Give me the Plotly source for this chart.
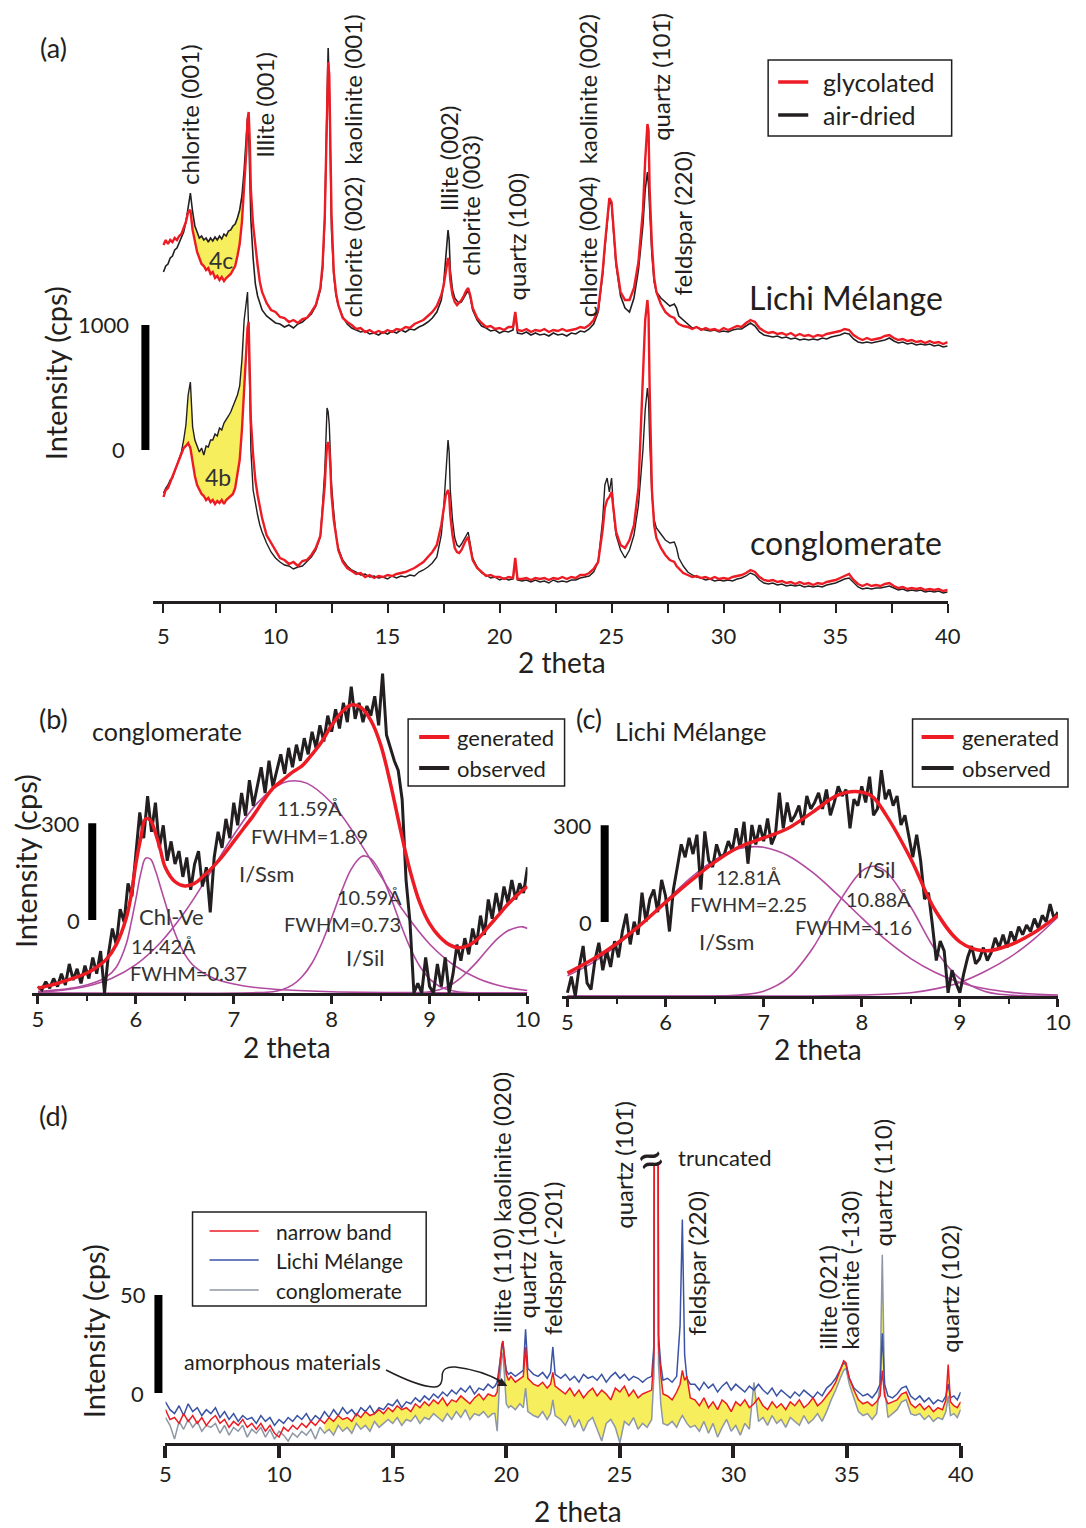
import plotly.graph_objects as go

W, H = 1086, 1528
FONT = "Lato"
INK = "#231f20"
RED = "#ed1c24"
BLUE = "#3a53a4"
GRAY = "#8d97a5"
PURPLE = "#b24a9f"
YELLOW = "#f6ee5c"

# the captured page places paper x in [0, 1] at pixels 8 .. 1072
X_OFF, X_SPAN = 8.0, 1064.0


def fx(p):
    return (p - X_OFF) / X_SPAN


def fy(p):
    return 1 - p / H


def grid(a, b, step):
    n = int(round((b - a) / step)) + 1
    return [round(a + i * step, 3) for i in range(n)]


# ---------------- (a) XRD patterns, intensity in cps ----------------
THETA_A = (grid(5.0, 8.4, 0.1)
           + [8.5, 8.6, 8.7, 8.75, 8.8, 8.85, 8.9, 9.0, 9.1, 9.2, 9.3, 9.4]
           + grid(9.6, 12.0, 0.2)
           + [12.1, 12.2, 12.25, 12.3, 12.35, 12.4, 12.45, 12.5, 12.6, 12.7, 12.8, 13.0]
           + grid(13.2, 17.2, 0.2)
           + [17.4, 17.5, 17.6, 17.7, 17.75, 17.8, 17.9, 18.0, 18.1, 18.2, 18.3, 18.4, 18.5, 18.6, 18.7, 18.8, 19.0]
           + grid(19.2, 20.4, 0.2)
           + [20.6, 20.7, 20.8]
           + grid(21.0, 24.2, 0.2)
           + [24.4, 24.6, 24.7, 24.8, 24.9, 25.0, 25.1, 25.2, 25.4, 25.6, 25.8, 26.0, 26.2, 26.4, 26.5, 26.6,
              26.65, 26.7, 26.8, 26.9, 27.0, 27.2, 27.4, 27.6, 27.8, 27.9, 28.0, 28.2]
           + grid(28.4, 40.0, 0.2))

LICHI_AIR = [
    2632, 2680, 2696, 2744, 2760, 2808, 2824, 2872, 2904, 2952, 3032, 3168, 3264, 3112, 3000, 2952, 2904, 2920,
    2888, 2904, 2872, 2904, 2880, 2912, 2888, 2920, 2896, 2936, 2920, 2960, 2968, 3000, 3016, 3064, 3128,
    3240, 3448, 3728, 3864, 3784, 3408, 3048, 2744, 2536, 2440, 2376, 2328,
    2280, 2248, 2224, 2216, 2192, 2208, 2184, 2216, 2232, 2264, 2296, 2360, 2488,
    2648, 3048, 3528, 4168, 4424, 4088, 3448, 2968, 2608, 2448, 2368, 2272,
    2216, 2184, 2168, 2152, 2160, 2136, 2144, 2128, 2152, 2136, 2160, 2144, 2168, 2152, 2176, 2168, 2192, 2208,
    2232, 2264, 2312,
    2408, 2528, 2768, 2968, 2888, 2648, 2488, 2424, 2400, 2384, 2392, 2424, 2464, 2488, 2424, 2328, 2248,
    2200, 2184, 2160, 2168, 2144, 2160, 2152,
    2168, 2312, 2144,
    2136, 2152, 2128, 2144, 2128, 2136, 2120, 2144, 2128, 2136, 2120, 2144, 2136, 2160, 2152, 2176, 2216,
    2312, 2608, 2824, 3008, 3208, 3168, 2928, 2688, 2440, 2344, 2312, 2424, 2648, 3008, 3288, 3432, 3328, 3088,
    2768, 2552, 2472, 2424, 2392, 2360, 2376, 2344, 2280, 2248,
    2208, 2184, 2192, 2176, 2168, 2160, 2168, 2152, 2160, 2152, 2168, 2176, 2176, 2200, 2224, 2200, 2152, 2128,
    2120, 2112, 2120, 2104, 2112, 2096, 2104, 2088, 2096, 2088, 2096, 2088, 2104, 2096, 2112, 2120, 2128, 2144,
    2136, 2096, 2072, 2064, 2072, 2064, 2072, 2080, 2088, 2104, 2080, 2064, 2072, 2056, 2064, 2048, 2056, 2048,
    2056, 2040, 2048, 2032, 2040]

LICHI_GLY = [
    2848, 2888, 2856, 2888, 2872, 2904, 2888, 2920, 2936, 2984, 3032, 3112, 3128, 2968, 2872, 2792, 2744, 2696,
    2680, 2648, 2664, 2616, 2632, 2584, 2600, 2568, 2592, 2560, 2584, 2600, 2616, 2648, 2680, 2760, 2856,
    3032, 3288, 3608, 3848, 3912, 3688, 3288, 3008, 2824, 2688, 2552, 2472,
    2384, 2328, 2312, 2272, 2264, 2232, 2248, 2224, 2256, 2264, 2312, 2368, 2504,
    2688, 3088, 3488, 4048, 4312, 4208, 3608, 3088, 2632, 2464, 2368, 2264,
    2232, 2208, 2176, 2184, 2152, 2168, 2144, 2160, 2144, 2168, 2152, 2176, 2168, 2192, 2184, 2216, 2232, 2248,
    2280, 2312, 2360,
    2448, 2520, 2648, 2744, 2712, 2568, 2448, 2392, 2368, 2384, 2408, 2440, 2480, 2504, 2440, 2344, 2264,
    2224, 2192, 2200, 2176, 2184, 2168, 2192,
    2192, 2312, 2168,
    2160, 2176, 2152, 2168, 2160, 2176, 2152, 2168, 2160, 2176, 2160, 2168, 2176, 2192, 2184, 2208, 2248,
    2328, 2632, 2848, 3032, 3224, 3192, 2952, 2712, 2472, 2408, 2408, 2504, 2712, 3128, 3528, 3816, 3768, 3288,
    2848, 2584, 2472, 2376, 2312, 2280, 2264, 2232, 2216, 2200,
    2192, 2176, 2192, 2168, 2184, 2168, 2176, 2160, 2184, 2168, 2184, 2200, 2192, 2224, 2248, 2232, 2184, 2160,
    2144, 2152, 2136, 2144, 2128, 2144, 2120, 2136, 2120, 2128, 2112, 2128, 2120, 2136, 2144, 2152, 2160, 2176,
    2168, 2128, 2104, 2088, 2104, 2088, 2096, 2104, 2120, 2128, 2104, 2088, 2096, 2080, 2088, 2072, 2080, 2064,
    2080, 2064, 2072, 2056, 2072]

CONGL_AIR = [
    864, 904, 928, 968, 984, 1032, 1080, 1144, 1192, 1288, 1408, 1648, 1752, 1392, 1288, 1240, 1192, 1224,
    1168, 1240, 1232, 1288, 1288, 1336, 1320, 1384, 1368, 1424, 1448, 1480, 1512, 1560, 1592, 1648, 1720,
    1928, 2248, 2440, 2472, 2168, 1608, 1208, 888, 768, 688, 608, 552,
    464, 392, 344, 312, 288, 280, 256, 272, 280, 312, 352, 408, 512,
    768, 1048, 1288, 1544, 1512, 1408, 1168, 928, 712, 528, 424, 328,
    280, 248, 232, 208, 216, 192, 200, 184, 192, 176, 200, 184, 200, 192, 208, 200, 232, 248, 272, 304, 352,
    528, 728, 1048, 1288, 1192, 888, 648, 504, 448, 432, 456, 488, 528, 552, 448, 344, 272,
    224, 208, 184, 192, 168, 184, 168,
    176, 304, 168,
    160, 168, 152, 168, 152, 160, 144, 168, 152, 160, 152, 168, 168, 184, 192, 200, 232,
    312, 648, 928, 984, 872, 984, 688, 528, 408, 344, 408, 528, 768, 1208, 1528, 1704, 1608, 1288, 848, 648,
    584, 536, 488, 464, 472, 424, 344, 280,
    232, 208, 192, 184, 168, 176, 160, 168, 160, 168, 160, 176, 184, 200, 224, 208, 168, 144, 136, 144, 128,
    136, 120, 128, 120, 128, 112, 120, 112, 120, 112, 128, 136, 144, 160, 176, 184, 144, 112, 96, 104, 96, 104,
    104, 112, 120, 104, 88, 96, 80, 88, 80, 88, 72, 80, 72, 80, 64, 72]

CONGL_GLY = [
    832, 888, 904, 952, 984, 1032, 1080, 1144, 1192, 1224, 1240, 1264, 1224, 1112, 1000, 928, 888, 856, 840,
    808, 824, 792, 808, 776, 800, 784, 808, 776, 808, 824, 840, 856, 904, 1000, 1128,
    1368, 1728, 2048, 2184, 2232, 1928, 1448, 1168, 968, 848, 744, 664,
    528, 464, 408, 344, 328, 296, 312, 280, 320, 328, 368, 424, 520,
    728, 928, 1112, 1240, 1272, 1224, 1064, 848, 648, 504, 408, 312,
    264, 240, 216, 224, 192, 208, 184, 200, 192, 208, 200, 216, 224, 232, 248, 264, 288, 312, 352, 392, 448,
    608, 728, 848, 888, 848, 688, 528, 424, 392, 384, 408, 448, 488, 512, 424, 328, 264,
    232, 200, 208, 192, 192, 176, 192,
    184, 344, 176,
    176, 184, 168, 184, 176, 184, 168, 184, 176, 192, 176, 192, 184, 208, 208, 224, 256,
    312, 568, 744, 808, 832, 872, 688, 552, 448, 424, 488, 608, 904, 1768, 2248, 2408, 2288, 1688, 888, 608,
    504, 424, 368, 328, 312, 280, 264, 224,
    208, 192, 200, 184, 192, 176, 192, 176, 184, 176, 192, 200, 208, 224, 248, 232, 192, 168, 160, 168, 152,
    160, 144, 152, 136, 152, 136, 144, 128, 144, 136, 152, 160, 168, 184, 200, 216, 168, 136, 120, 136, 120,
    128, 120, 136, 144, 120, 104, 112, 96, 104, 96, 104, 88, 96, 88, 96, 80, 88]

LABELS_A = [("chlorite (001)", 191, 186), ("Illite (001)", 266, 159),
            ("chlorite (002)  kaolinite (001)", 354, 318), ("Illite (002)", 449, 212),
            ("chlorite (003)", 471, 277), ("quartz (100)", 517, 301),
            ("chlorite (004)  kaolinite (002)", 588, 318), ("quartz (10\u0031\u0304)", 661, 142),
            ("feldspar (220)", 683, 296)]

# ---------------- (b) conglomerate decomposition ----------------
THETA_OBS = grid(5.0, 10.0, 0.04)
OBS_B = [20, 10, 35, 15, 45, 20, 60, 25, 90, 40,
         75, 30, 85, 45, 110, 60, 130, 0, 120, 200,
         150, 260, 220, 340, 300, 420, 560, 480, 610, 500,
         590, 450, 520, 410, 470, 400, 440, 360, 420, 320,
         400, 440, 330, 390, 250, 420, 500, 450, 540, 480,
         590, 520, 620, 550, 660, 580, 640, 700, 620, 720,
         640, 690, 740, 680, 760, 700, 770, 720, 790, 740,
         810, 760, 830, 780, 860, 810, 880, 820, 900, 840,
         950, 850, 900, 840, 890, 860, 920, 830, 990, 800,
         760, 720, 690, 600, 350, 220, 0, 30, 0, 110,
         20, 0, 90, 20, 110, 0, 60, 150, 100, 170,
         120, 200, 150, 240, 180, 290, 230, 310, 250, 330,
         280, 350, 290, 340, 310, 390]
GEN_B_X = [5.0, 5.1, 5.2, 5.3, 5.4, 5.5, 5.6, 5.7, 5.8, 5.9, 5.95, 6.0, 6.05, 6.1, 6.15, 6.2, 6.25, 6.3,
           6.4, 6.5, 6.6, 6.7, 6.8, 6.9, 7.0, 7.1, 7.2, 7.3, 7.4, 7.5, 7.6, 7.7, 7.8, 7.9, 8.0, 8.1, 8.2,
           8.3, 8.4, 8.5, 8.6, 8.7, 8.8, 8.9, 9.0, 9.1, 9.2, 9.3, 9.4, 9.5, 9.6, 9.7, 9.8, 9.9, 10.0]
GEN_B = [15, 22, 30, 40, 50, 62, 80, 105, 150, 230, 300, 400, 480, 540, 535, 496, 445, 390,
         345, 332, 340, 365, 395, 430, 470, 510, 550, 595, 635, 660, 685, 705, 740, 780, 830, 870, 893,
         885, 845, 770, 650, 510, 380, 280, 215, 175, 150, 140, 148, 170, 205, 240, 275, 305, 330]
CHL_B_X = [5.0, 5.2, 5.4, 5.6, 5.7, 5.8, 5.9, 5.95, 6.0, 6.05, 6.1, 6.15, 6.2, 6.25, 6.3, 6.4, 6.5, 6.6,
           6.8, 7.0, 7.2, 7.5, 8.0, 9.0, 10.0]
CHL_B = [5, 10, 18, 35, 50, 80, 150, 215, 290, 370, 418, 415, 380, 330, 280, 185, 120, 82,
         45, 28, 18, 10, 4, 1, 0]
ISSM_B_X = [5.0, 5.25, 5.5, 5.75, 6.0, 6.25, 6.5, 6.75, 7.0, 7.25, 7.5, 7.62, 7.75, 8.0, 8.25, 8.5,
            8.75, 9.0, 9.25, 9.5, 9.75, 10.0]
ISSM_B = [3, 9, 21, 45, 88, 156, 251, 368, 490, 592, 651, 658, 650, 589, 485, 363, 247, 152, 86, 44, 20, 8]
ISIL_B_X = [5.0, 7.2, 7.4, 7.5, 7.6, 7.7, 7.8, 7.9, 8.0, 8.1, 8.2, 8.3, 8.34, 8.4, 8.5, 8.6, 8.7, 8.8,
            8.9, 9.0, 9.1, 9.2, 9.3, 9.5, 10.0]
ISIL_B = [0, 1, 4, 11, 25, 51, 93, 155, 233, 315, 384, 422, 425, 417, 372, 299, 217, 141, 83, 44, 21, 9, 3, 0, 0]
HIGH_B_X = [5.0, 8.8, 9.0, 9.1, 9.2, 9.3, 9.4, 9.5, 9.6, 9.7, 9.8, 9.9, 9.95, 10.0]
HIGH_B = [0, 0, 4, 10, 22, 42, 70, 102, 138, 170, 193, 204, 205, 200]

# ---------------- (c) Lichi Melange decomposition ----------------
OBS_C = [10, 60, 0, 90, 155, 40, 20, 110, 165, 80,
         140, 90, 170, 120, 200, 255, 160, 230, 190, 320,
         230, 300, 330, 260, 360, 310, 200, 330, 400, 470,
         430, 490, 440, 500, 330, 510, 420, 400, 470, 430,
         440, 480, 450, 520, 460, 540, 410, 530, 470, 530,
         480, 550, 470, 500, 630, 520, 600, 540, 560, 590,
         530, 620, 580, 600, 630, 580, 640, 560, 600, 650,
         620, 640, 520, 610, 590, 650, 600, 680, 560, 580,
         700, 610, 640, 590, 620, 530, 560, 500, 430, 500,
         420, 300, 320, 220, 110, 170, 140, 10, 80, 40,
         10, 70, 120, 155, 100, 115, 150, 110, 135, 180,
         150, 190, 150, 200, 170, 215, 190, 220, 200, 240,
         210, 250, 230, 285, 240, 260]
GEN_C_X = [5.0, 5.25, 5.5, 5.75, 6.0, 6.25, 6.5, 6.75, 7.0, 7.25, 7.5, 7.75, 7.94, 8.1, 8.25, 8.5, 8.75,
           9.0, 9.25, 9.5, 9.75, 10.0]
GEN_C = [71, 112, 162, 222, 290, 355, 415, 462, 490, 520, 570, 622, 634, 620, 560, 425, 265, 168, 140, 157,
         195, 250]
ISSM_C_X = [5.0, 5.25, 5.5, 5.75, 6.0, 6.25, 6.5, 6.75, 6.91, 7.0, 7.25, 7.5, 7.75, 8.0, 8.25, 8.5, 8.75,
            9.0, 9.25, 9.5, 9.75, 10.0]
ISSM_C = [63, 102, 156, 222, 294, 365, 422, 457, 463, 461, 435, 383, 315, 242, 173, 116, 73, 42, 23, 12, 6, 3]
ISIL_C_X = [5.0, 6.5, 6.75, 7.0, 7.25, 7.5, 7.75, 8.0, 8.12, 8.25, 8.5, 8.75, 9.0, 9.25, 9.5, 10.0]
ISIL_C = [0, 0, 3, 15, 56, 148, 282, 387, 402, 385, 276, 143, 54, 15, 3, 0]
HIGH_C_X = [5.0, 7.5, 8.0, 8.5, 8.75, 9.0, 9.25, 9.5, 9.75, 10.0]
HIGH_C = [0, 0, 3, 10, 22, 42, 75, 118, 175, 245]

# ---------------- (d) random-powder patterns ----------------
THETA_D = (grid(5.0, 19.4, 0.2)
           + [19.5, 19.6, 19.7, 19.8, 19.85, 19.9, 20.0, 20.1, 20.2, 20.4, 20.6, 20.75, 20.85, 20.95, 21.2]
           + [21.4, 21.6, 21.8]
           + [21.95, 22.05, 22.15]
           + grid(22.4, 26.2, 0.2)
           + [26.4, 26.5, 26.58, 26.62, 26.7, 26.8, 26.9]
           + [27.1, 27.3, 27.5, 27.65, 27.75, 27.85, 27.95, 28.1]
           + grid(28.3, 34.1, 0.2)
           + [34.3, 34.5, 34.7, 34.85, 34.95, 35.1, 35.3, 35.5, 35.7, 35.9, 36.1, 36.3, 36.45, 36.55, 36.65,
              36.8, 37.0, 37.2, 37.4, 37.6, 37.8]
           + grid(38.0, 39.2, 0.2)
           + [39.35, 39.45, 39.55, 39.7, 39.85, 40.0])

LICHI_D = ([21, 17, 15, 19, 14, 20, 16, 18, 14, 17, 15, 18, 13, 16, 12, 15, 11, 14, 12, 13,
            10, 14, 11, 13, 9, 12, 10, 13, 11, 14, 12, 15, 11, 14, 12, 16, 13, 17, 14, 18,
            15, 17, 14, 18, 16, 19, 15, 18, 17, 20, 19, 22, 18, 21, 20, 23, 21, 24, 22, 25,
            23, 26, 24, 27, 25, 28, 26, 29, 25, 28, 27, 30, 28]
           + [29, 31, 40, 50, 52, 46, 37, 35, 36, 34, 36, 37, 58, 38, 35]
           + [34, 36, 33] + [36, 49, 35]
           + [33, 35, 32, 34, 31, 35, 33, 34, 32, 35, 31, 34, 36, 33, 35, 32, 34, 33, 31, 33]
           + [34, 50, 600, 600, 55, 40, 32]
           + [33, 31, 34, 60, 114, 45, 33, 30]
           + [30, 27, 31, 28, 30, 26, 29, 31, 27, 30, 28, 26, 29, 27, 30, 27, 25, 28, 24, 27,
              25, 23, 26, 24, 27, 25, 23, 26, 24, 28]
           + [30, 33, 38, 41, 40, 33, 28, 26, 24, 25, 23, 26, 30, 56, 30, 24, 23, 25, 28, 29, 24]
           + [22, 24, 21, 23, 20, 22, 21]
           + [24, 30, 23, 24, 22, 26])

NARROW_D = ([17, 12, 13, 10, 15, 11, 14, 10, 13, 9, 12, 14, 10, 12, 8, 11, 9, 12, 8, 10,
             7, 10, 6, 9, 5, 3, 8, 6, 9, 7, 10, 8, 11, 9, 12, 10, 13, 11, 14, 12,
             13, 11, 15, 13, 16, 14, 15, 17, 15, 18, 16, 19, 17, 18, 16, 20, 18, 21, 19, 22,
             20, 23, 19, 22, 21, 24, 22, 20, 23, 25, 22, 25, 24]
            + [24, 26, 38, 50, 52, 45, 35, 32, 34, 31, 33, 34, 49, 33, 30]
            + [29, 31, 28] + [30, 36, 29]
            + [27, 25, 28, 24, 27, 23, 26, 28, 24, 27, 25, 22, 28, 26, 29, 24, 27, 23, 25, 26]
            + [27, 45, 600, 600, 50, 35, 25]
            + [24, 22, 26, 30, 37, 32, 34, 23]
            + [22, 19, 23, 18, 21, 17, 22, 20, 16, 21, 19, 22, 18, 20, 23, 19, 17, 21, 18, 20,
               17, 21, 19, 22, 18, 20, 23, 19, 21, 24]
            + [27, 31, 37, 42, 41, 33, 27, 22, 20, 21, 19, 21, 24, 37, 24, 20, 21, 22, 25, 26, 20]
            + [18, 20, 17, 19, 16, 18, 17]
            + [22, 40, 21, 19, 18, 21])

CONGL_D = ([13, 9, 2, 11, 7, 12, 8, 11, 6, 9, 8, 10, 5, 9, 4, 8, 6, 9, 3, 7,
            5, 8, 3, 7, 2, 6, 4, 1, 5, 3, 6, 4, 7, 2, 8, 5, 7, 4, 9, 6,
            8, 5, 10, 7, 9, 6, 11, 8, 10, 12, 10, 13, 9, 12, 11, 14, 10, 13, 12, 15,
            13, 11, 15, 12, 16, 13, 17, 12, 15, 14, 16, 13, 15]
           + [15, 6, 30, 44, 46, 38, 20, 18, 19, 17, 20, 18, 28, 16, 14]
           + [13, 16, 12] + [15, 22, 14]
           + [12, 9, 14, 8, 12, 6, 11, 13, 7, 1, 10, 12, 8, 0, 11, 9, 13, 7, 10, 8]
           + [12, 35, 600, 600, 40, 20, 10]
           + [9, 11, 8, 12, 14, 12, 10, 8]
           + [9, 6, 11, 5, 10, 3, 8, 12, 6, 9, 4, 10, 7, 31, 11, 13, 9, 14, 10, 12,
              8, 13, 11, 9, 14, 10, 12, 15, 11, 16]
           + [22, 27, 33, 37, 38, 30, 23, 16, 14, 15, 12, 15, 30, 96, 28, 13, 15, 17, 21, 22, 15]
           + [14, 15, 12, 14, 11, 13, 12]
           + [16, 24, 14, 15, 13, 17])

LABELS_D = [("illite (110) kaolinite (020)", 502, 1334), ("quartz (100)", 527, 1319),
            ("feldspar (-201)", 553, 1336), ("quartz (10\u0031\u0304)", 623, 1230),
            ("feldspar (220)", 697, 1336), ("illite (021)", 827, 1351),
            ("kaolinite (-130)", 849, 1351), ("quartz (110)", 882, 1247), ("quartz (102)", 948, 1354)]


def pair(x, y):
    n = min(len(x), len(y))
    if len(x) != len(y):
        print("length mismatch", len(x), len(y))
    return list(x[:n]), list(y[:n])


fig = go.Figure()


def line(x, y, color, width, xa, ya, shape="linear"):
    x, y = pair(x, y)
    fig.add_trace(go.Scatter(x=x, y=y, mode="lines", line=dict(color=color, width=width, shape=shape),
                             xaxis=xa, yaxis=ya, showlegend=False, hoverinfo="skip"))


def band(x, top, bot, i0, i1, xa, ya):
    xs = x[i0:i1 + 1] + x[i0:i1 + 1][::-1]
    ys = top[i0:i1 + 1] + bot[i0:i1 + 1][::-1]
    fig.add_trace(go.Scatter(x=xs, y=ys, mode="lines", fill="toself", fillcolor=YELLOW,
                             line=dict(width=0, color=YELLOW), xaxis=xa, yaxis=ya,
                             showlegend=False, hoverinfo="skip"))


# (a)
band(THETA_A, LICHI_AIR, LICHI_GLY, THETA_A.index(6.3), THETA_A.index(8.6), "x", "y")
band(THETA_A, CONGL_AIR, CONGL_GLY, THETA_A.index(5.9), THETA_A.index(8.6), "x", "y")
line(THETA_A, LICHI_AIR, INK, 1.6, "x", "y")
line(THETA_A, LICHI_GLY, RED, 2.4, "x", "y")
line(THETA_A, CONGL_AIR, INK, 1.4, "x", "y")
line(THETA_A, CONGL_GLY, RED, 2.4, "x", "y")

# (b)
for cx, cy in [(CHL_B_X, CHL_B), (ISSM_B_X, ISSM_B), (ISIL_B_X, ISIL_B), (HIGH_B_X, HIGH_B)]:
    line(cx, cy, PURPLE, 1.6, "x2", "y2", "spline")
line(THETA_OBS, OBS_B, INK, 3, "x2", "y2")
line(GEN_B_X, GEN_B, RED, 3.5, "x2", "y2", "spline")

# (c)
for cx, cy in [(ISSM_C_X, ISSM_C), (ISIL_C_X, ISIL_C), (HIGH_C_X, HIGH_C)]:
    line(cx, cy, PURPLE, 1.6, "x3", "y3", "spline")
line(THETA_OBS, OBS_C, INK, 3, "x3", "y3")
line(GEN_C_X, GEN_C, RED, 3.5, "x3", "y3", "spline")

# (d)
band(THETA_D, NARROW_D, CONGL_D, THETA_D.index(12.0), len(THETA_D) - 1, "x4", "y4")
line(THETA_D, CONGL_D, GRAY, 1.5, "x4", "y4")
line(THETA_D, LICHI_D, BLUE, 1.5, "x4", "y4")
line(THETA_D, NARROW_D, RED, 1.5, "x4", "y4")

tickfont = dict(family=FONT, size=22, color=INK)
base = dict(showline=True, linecolor=INK, ticks="outside", tickcolor=INK, showgrid=False,
            zeroline=False, tickfont=tickfont, tickmode="linear", fixedrange=True)

fig.update_layout(
    width=W, height=H, autosize=False, margin=dict(l=0, r=0, t=0, b=0, pad=0),
    paper_bgcolor="white", plot_bgcolor="rgba(0,0,0,0)",
    font=dict(family=FONT, color=INK),
    xaxis=dict(domain=[fx(155), fx(947)], range=[4.55, 40], anchor="y", linewidth=2.5, tick0=5, dtick=5,
               ticklen=9, tickwidth=2, ticklabelstandoff=5,
               minor=dict(tick0=5, dtick=2.5, ticklen=9, tickwidth=2, ticks="outside", tickcolor=INK), **base),
    yaxis=dict(domain=[fy(601), fy(8)], range=[0, 4744], visible=False, anchor="x", fixedrange=True),
    xaxis2=dict(domain=[fx(34), fx(528)], range=[4.94, 10], anchor="y2", linewidth=3, tick0=5, dtick=1,
                ticklen=8, tickwidth=3, ticklabelstandoff=-3,
                minor=dict(tick0=5, dtick=0.5, ticklen=5, tickwidth=2, ticks="outside", tickcolor=INK), **base),
    yaxis2=dict(domain=[fy(993), fy(665)], range=[0, 1017], visible=False, anchor="x2", fixedrange=True),
    xaxis3=dict(domain=[fx(562), fx(1057)], range=[4.94, 10], anchor="y3", linewidth=3, tick0=5, dtick=1,
                ticklen=8, tickwidth=3, ticklabelstandoff=-3,
                minor=dict(tick0=5, dtick=0.5, ticklen=5, tickwidth=2, ticks="outside", tickcolor=INK), **base),
    yaxis3=dict(domain=[fy(996), fy(665)], range=[0, 1026], visible=False, anchor="x3", fixedrange=True),
    xaxis4=dict(domain=[fx(167), fx(960)], range=[5, 40], anchor="y4", linewidth=3, tick0=5, dtick=5,
                ticklen=12, tickwidth=4, ticklabelstandoff=-2, **base),
    yaxis4=dict(domain=[fy(1443), fy(1165)], range=[0, 141.8], visible=False, anchor="x4", fixedrange=True),
)

ann = []
shapes = []


def text(x, y, s, size, xanchor="center", yanchor="middle", angle=0, color=INK, yref="paper"):
    ann.append(dict(x=fx(x), y=(fy(y) if yref == "paper" else y), xref="paper", yref=yref, text=s,
                    showarrow=False, xanchor=xanchor, yanchor=yanchor, textangle=angle,
                    font=dict(family=FONT, size=size, color=color), borderpad=0))


def rect(x0, y0, x1, y1, width=1.5):
    shapes.append(dict(type="rect", xref="paper", yref="paper", x0=fx(x0), x1=fx(x1), y0=fy(y1), y1=fy(y0),
                       line=dict(color=INK, width=width), fillcolor="rgba(0,0,0,0)"))


def seg(x0, y0, x1, y1, color, width):
    shapes.append(dict(type="line", xref="paper", yref="paper", x0=fx(x0), x1=fx(x1), y0=fy(y0), y1=fy(y1),
                       line=dict(color=color, width=width)))


def scalebar(cx, v0, v1, yref):
    shapes.append(dict(type="rect", xref="paper", yref=yref, x0=fx(cx - 4), x1=fx(cx + 4), y0=v0, y1=v1,
                       line=dict(width=0), fillcolor="black"))


# ---- (a) decorations
text(55, 47, "(a)", 27)
text(57, 373, "Intensity (cps)", 29, angle=-90)
scalebar(147, 1208, 2208, "y")
text(132, 2208, "1000", 22, xanchor="right", yref="y")
text(128, 1208, "0", 22, xanchor="right", yref="y")
for s, x, yb in LABELS_A:
    text(x, yb, s, 24, yanchor="bottom", angle=-90)
text(846, 297, "Lichi Mélange", 32)
text(846, 542, "conglomerate", 32)
text(222, 260, "4c", 23, color="#333333")
text(219, 477, "4b", 23, color="#333333")
text(562, 662, "2 theta", 28)
rect(768, 60, 951, 136)
seg(778, 82, 808, 82, RED, 3.5)
seg(778, 115, 808, 115, INK, 3.5)
text(822, 82, "glycolated", 25, xanchor="left")
text(822, 115, "air-dried", 25, xanchor="left")

# ---- (b) decorations
text(55, 718, "(b)", 27)
text(169, 731, "conglomerate", 25)
text(27, 861, "Intensity (cps)", 29, angle=-90)
scalebar(94, 226, 526, "y2")
text(83, 526, "300", 22, xanchor="right", yref="y2")
text(83, 226, "0", 22, xanchor="right", yref="y2")
rect(409, 719, 565, 786)
seg(420, 737, 450, 737, RED, 4)
seg(420, 768, 450, 768, INK, 4)
text(457, 737, "generated", 22, xanchor="left")
text(457, 768, "observed", 22, xanchor="left")
for s, x, y in [("11.59Å", 311, 808), ("FWHM=1.89", 311, 836), ("I/Ssm", 268, 873), ("Chl-Ve", 173, 916),
                ("14.42Å", 165, 946), ("FWHM=0.37", 190, 973), ("10.59Å", 370, 897), ("FWHM=0.73", 344, 924),
                ("I/Sil", 366, 957)]:
    text(x, y, s, 20 if "I/" not in s and "Chl" not in s else 22, color="#333333")
text(288, 1047, "2 theta", 28)

# ---- (c) decorations
text(589, 718, "(c)", 27)
text(691, 731, "Lichi Mélange", 25)
scalebar(605, 229, 529, "y3")
text(593, 529, "300", 22, xanchor="right", yref="y3")
text(593, 229, "0", 22, xanchor="right", yref="y3")
rect(912, 719, 1067, 787)
seg(921, 737, 953, 737, RED, 4)
seg(921, 768, 953, 768, INK, 4)
text(960, 737, "generated", 22, xanchor="left")
text(960, 768, "observed", 22, xanchor="left")
for s, x, y in [("12.81Å", 748, 877), ("FWHM=2.25", 748, 904), ("I/Ssm", 726, 941), ("I/Sil", 876, 870),
                ("10.88Å", 878, 899), ("FWHM=1.16", 853, 927)]:
    text(x, y, s, 20 if "I/" not in s else 22, color="#333333")
text(818, 1049, "2 theta", 28)

# ---- (d) decorations
text(55, 1115, "(d)", 27)
text(95, 1331, "Intensity (cps)", 29, angle=-90)
scalebar(160, 25.5, 75.5, "y4")
text(149, 75.5, "50", 22, xanchor="right", yref="y4")
text(147, 25.5, "0", 22, xanchor="right", yref="y4")
rect(194, 1212, 427, 1306)
seg(211, 1231, 260, 1231, RED, 1.5)
seg(211, 1260, 260, 1260, BLUE, 1.5)
seg(211, 1290, 260, 1290, GRAY, 1.5)
text(276, 1231, "narrow band", 21, xanchor="left")
text(276, 1260, "Lichi Mélange", 21, xanchor="left")
text(276, 1290, "conglomerate", 21, xanchor="left")
for s, x, yb in LABELS_D:
    text(x, yb, s, 24, yanchor="bottom", angle=-90)
text(677, 1157, "truncated", 22, xanchor="left")
text(651, 1158, "≈", 50, angle=-18)
text(185, 1362, "amorphous materials", 21.5, xanchor="left")
text(578, 1511, "2 theta", 28)

pts = [(387, 1370), (418, 1386), (434, 1387), (443, 1388), (443, 1376), (443, 1366), (456, 1367),
       (482, 1370), (503, 1382)]
p = "M {:.5f},{:.5f}".format(fx(pts[0][0]), fy(pts[0][1]))
for i in range(1, len(pts), 2):
    p += " Q {:.5f},{:.5f} {:.5f},{:.5f}".format(fx(pts[i][0]), fy(pts[i][1]), fx(pts[i + 1][0]), fy(pts[i + 1][1]))
shapes.append(dict(type="path", xref="paper", yref="paper", path=p, line=dict(color=INK, width=1.5)))
ann.append(dict(x=fx(508), y=fy(1386), xref="paper", yref="paper", text="", showarrow=True, arrowhead=2,
                arrowsize=1.2, arrowwidth=1.5, arrowcolor=INK, ax=-12, ay=-6))

fig.update_layout(annotations=ann, shapes=shapes)

POST = ("document.documentElement.style.margin='0';document.body.style.margin='0';"
        "document.documentElement.style.overflow='hidden';document.body.style.overflow='hidden';"
        "Plotly.relayout(document.getElementById('{plot_id}'), {width: %d, height: %d});" % (W, H))
fig.write_html("out.html", config={"responsive": False, "displayModeBar": False}, post_script=POST)
